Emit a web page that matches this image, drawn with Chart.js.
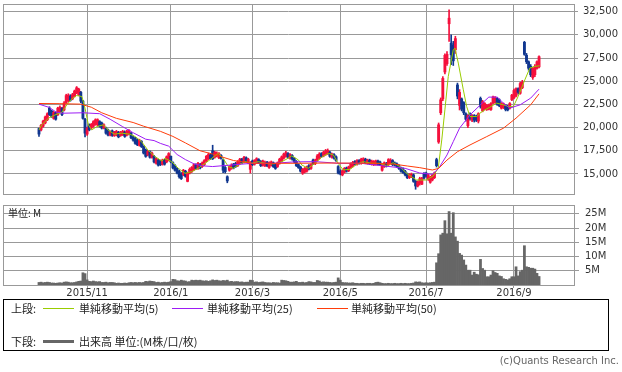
<!DOCTYPE html>
<html lang="ja">
<head>
<meta charset="utf-8">
<script src="https://cdn.jsdelivr.net/npm/chart.js@4.4.1/dist/chart.umd.min.js"></script>
<style>
  body { margin: 0; background: #fff; }
  #page { position: relative; width: 622px; height: 372px; overflow: hidden; font-family: "Noto Sans CJK JP", sans-serif; color: #222; }
  #priceChart { position: absolute; left: 0; top: 0; }
  #volumeChart { position: absolute; left: 0; top: 200px; }
  #unit { position: absolute; left: 8px; top: 207px; font-size: 10px; line-height: 12px; }
  #legend { position: absolute; left: 3px; top: 299px; width: 606px; height: 52px; box-sizing: border-box; border: 1px solid #000; font-size: 11px; }
  #legend span { position: absolute; white-space: nowrap; line-height: 12px; }
  #legend .ln { position: absolute; width: 31px; }
  #copy { position: absolute; right: 3px; top: 355px; font-size: 10px; line-height: 12px; color: #666; font-family: "DejaVu Sans", sans-serif; }
</style>
</head>
<body>
<div id="page">
  <canvas id="priceChart" width="622" height="200"></canvas>
  <canvas id="volumeChart" width="622" height="100"></canvas>
  <div id="unit">単位: M</div>
  <div id="legend">
    <span style="left:7px;top:2px">上段:</span>
    <div class="ln" style="left:39px;top:8px;height:1px;background:#99cc00"></div>
    <span style="left:75px;top:2px">単純移動平均(5)</span>
    <div class="ln" style="left:168px;top:8px;height:1px;background:#9d1cf5"></div>
    <span style="left:203px;top:2px">単純移動平均(25)</span>
    <div class="ln" style="left:313px;top:8px;height:1px;background:#ff3d0a"></div>
    <span style="left:347px;top:2px">単純移動平均(50)</span>
    <span style="left:7px;top:35px">下段:</span>
    <div class="ln" style="left:39px;top:40px;height:3px;background:#666"></div>
    <span style="left:75px;top:35px">出来高 単位:(M株/口/枚)</span>
  </div>
  <div id="copy">(c)Quants Research Inc.</div>
</div>
<script>
// daily candles, index 0 = first trading day shown
const opens = [
  19900,19750,20150,20500,20850,22100,21800,21000,21600,21400,
  21700,22100,21900,22700,22900,23400,23100,23400,23750,23550,
  23800,22850,20900,19300,20300,19950,20150,20350,20300,20650,
  20500,19950,19950,19750,19200,19650,19150,19200,19500,19150,
  19200,19500,19200,19300,19400,19000,18850,18650,18100,18500,
  17950,17600,17050,17400,16800,16900,16150,16500,16400,16050,
  16500,16300,16500,16900,16200,15900,15600,15300,15000,14900,
  15300,14200,15100,15250,15450,16000,15600,16000,15800,16000,
  16400,16650,17050,17500,16800,16950,16750,17000,16500,15700,
  14700,15400,15600,16050,16150,15900,16150,16600,16300,16750,
  16200,15500,16400,16050,16250,16550,16350,15950,15900,16250,
  15700,15950,16200,16000,15800,16150,16400,16700,16900,17200,
  16700,17000,16700,16350,16000,15750,15100,15200,15300,15900,
  15600,16500,16100,16500,16700,17200,16950,17100,17200,17350,
  16800,17100,16850,15800,15300,14900,15200,15650,15350,15700,
  15850,16350,16050,16450,16150,16350,16600,16150,16500,16050,
  16000,16050,16400,16300,15400,15800,16150,16000,16200,16450,
  16200,16100,15900,15650,15550,15300,15000,14600,14700,14900,
  14200,13700,14000,13900,15050,15100,14400,14100,14350,14600,
  16550,18450,21600,23100,26000,26900,31200,29100,28900,28400,
  24600,22400,23100,22700,21500,20200,21500,20800,21300,21200,
  20700,23150,21800,22000,21950,22000,21950,22650,22700,23150,
  23000,22100,22150,22400,22300,22100,23000,23200,23400,24200,
  23700,24300,29200,27800,27100,26600,25400,25700,26400,26550
];
const highs = [
  19950,20350,20800,21250,21600,22250,21900,21750,21700,22200,
  22350,22200,22800,23600,23650,23550,23700,24050,24430,24250,
  23900,22950,21000,20050,20400,20450,20750,20950,20950,20750,
  20600,20400,20050,19850,19650,19750,19600,19700,19600,19600,
  19700,19650,19700,19800,19500,19100,18950,18750,18750,18600,
  18050,17700,17550,17500,17350,17000,16750,16600,16500,16600,
  16600,16950,17300,16950,16300,16000,15700,15400,15150,15500,
  15400,15200,15650,15800,16100,16100,16250,16150,16300,16550,
  17000,17250,17200,18100,17450,17400,17300,17100,16600,15800,
  14800,15900,16100,16150,16250,16450,16700,16700,16900,16850,
  16700,16350,16500,16550,16750,16650,16450,16500,16400,16350,
  16300,16400,16300,16100,16300,16700,16950,17250,17450,17300,
  17200,17100,16800,16450,16100,15850,15600,15700,15850,16000,
  16100,16600,16600,17100,17300,17300,17450,17650,17700,17450,
  17250,17200,16950,15900,15450,15450,15700,15750,15850,16200,
  16350,16450,16550,16550,16700,16750,16700,16600,16600,16500,
  16450,16500,16500,16400,16100,16300,16250,16650,16650,16550,
  16300,16200,16000,15750,15650,15400,15100,15050,15100,15000,
  14300,14250,14650,14650,15150,15200,15000,14750,14950,15200,
  16700,20500,23200,25500,27950,28200,32700,30000,29300,29850,
  24800,24100,23200,22800,21600,21400,21600,21400,21400,21350,
  21600,23300,22950,22700,22500,22550,22700,23400,23350,23250,
  23100,22700,22650,22500,22400,22700,23600,24150,24300,24300,
  24900,25100,29300,28000,27200,26800,26500,26800,27200,27750
];
const lows = [
  19050,19650,20050,20400,20750,21300,21100,20900,20800,21300,
  21600,21300,21800,22600,22800,22850,23000,23300,23650,23450,
  22700,20900,19000,19150,19650,19850,20050,20250,20200,20050,
  19850,19850,19300,19100,19100,19050,19050,19100,18900,19050,
  19150,18950,19100,19200,18800,18550,18200,18050,18000,17850,
  17150,16800,16950,16700,16700,16200,16050,15850,15900,15950,
  15950,16200,16400,16200,15550,15300,15000,14550,14400,14800,
  14650,14150,15000,15150,15350,15500,15500,15550,15700,15900,
  16300,16550,16550,16550,16700,16850,16650,16600,15150,15100,
  14050,15300,15500,15550,15700,15800,16050,16100,16200,16250,
  16100,15100,15900,15950,16150,16150,15800,15850,15800,15800,
  15600,15850,15700,15500,15700,16050,16300,16600,16800,16700,
  16600,16500,16200,15800,15600,15200,14950,15100,15200,15450,
  15500,16000,16000,16400,16600,16800,16850,17000,17100,16800,
  16700,16600,16350,15000,14900,14800,15100,15200,15250,15600,
  15750,15950,15950,16050,16050,16250,16100,16050,16000,15950,
  15900,15950,15950,15900,15300,15700,15750,15900,16100,15900,
  15850,15700,15500,15200,15050,14800,14500,14500,14600,14100,
  13350,13600,13800,13850,14450,14650,14300,14000,14250,14500,
  15750,18300,21400,22900,25800,26700,29300,26800,26700,28000,
  23100,21900,21800,21400,20700,20000,20800,20650,20600,20650,
  20500,22100,21700,21900,21850,21900,21850,22550,22600,22400,
  22250,22000,22050,21800,21800,22000,22900,23100,23300,23600,
  23600,24200,27800,26900,26200,25500,25200,25500,26300,26450
];
const closes = [
  19300,20250,20700,21150,21500,21400,21200,21650,20900,22100,
  22200,21400,22650,23450,23500,22950,23550,23950,24300,24150,
  22850,21000,19400,19950,19750,20350,20650,20850,20850,20150,
  19950,20300,19400,19200,19550,19150,19500,19600,19000,19500,
  19600,19050,19600,19700,18900,18650,18300,18150,18650,17950,
  17250,16900,17450,16800,17250,16300,16650,15950,16000,16500,
  16050,16850,17200,16300,15650,15400,15100,14700,14500,15400,
  14750,15100,15500,15700,16000,15600,16150,15650,16200,16450,
  16900,17100,16650,16650,17350,17250,17200,16700,15400,15250,
  14250,15800,15950,15650,15800,16350,16600,16200,16800,16350,
  16600,16200,16000,16450,16650,16250,15900,16400,16250,15900,
  16200,16300,15800,15600,16200,16600,16850,17150,17300,16800,
  17100,16600,16300,15900,15700,15300,15500,15600,15750,15550,
  16000,16100,16500,16950,17150,16900,17350,17500,17550,16900,
  17150,16700,16450,15100,15000,15350,15600,15300,15750,16100,
  16250,16050,16450,16150,16600,16650,16200,16500,16100,16400,
  16350,16400,16050,16000,16000,16200,15850,16550,16500,16000,
  15950,15800,15600,15300,15150,14900,14600,14950,14950,14200,
  13700,14150,14500,14500,14550,14750,14900,14650,14850,15100,
  15900,20300,23000,25300,27800,27900,31800,27850,27200,29600,
  23400,23800,22000,21600,20900,21300,20950,21300,20800,20800,
  21500,22300,22800,22600,22400,22450,22600,23300,23200,22500,
  22350,22600,22550,21950,21900,22600,23500,24000,24200,23800,
  24750,24900,27900,27100,26400,25700,26400,26600,27100,27650
];
// volume, million shares
const volumes = [
  0.9,1.0,0.8,0.9,1.0,0.9,0.7,0.7,0.6,0.7,
  0.8,0.7,1.0,1.1,1.0,0.8,0.8,0.9,1.1,1.3,
  1.4,4.3,4.0,1.8,1.3,1.2,1.4,1.2,1.1,1.2,
  0.9,0.9,1.0,0.8,0.9,0.9,0.8,0.6,0.7,0.6,
  0.6,0.7,0.6,0.8,0.9,0.8,0.9,0.8,0.9,0.8,
  0.9,1.3,1.2,1.4,1.3,1.2,0.9,1.0,0.8,0.9,
  1.0,0.9,1.0,1.2,2.0,1.9,1.5,1.4,1.7,1.5,
  1.4,1.1,1.2,1.7,1.6,1.7,1.6,1.7,1.5,1.4,
  1.5,1.3,1.5,1.8,1.6,1.7,1.5,1.4,1.6,1.5,
  1.7,1.2,1.3,1.1,1.2,1.2,1.0,1.1,0.9,1.0,
  1.0,1.7,1.6,1.0,1.1,0.9,1.0,1.1,0.9,0.8,
  0.8,0.7,0.9,0.8,0.8,0.7,1.7,1.6,1.5,1.3,
  1.0,1.0,1.1,1.3,0.9,0.9,1.0,0.8,0.9,1.2,
  1.1,0.9,0.9,1.6,1.4,1.0,1.1,1.0,1.0,0.9,
  0.8,0.9,1.0,2.5,1.7,0.9,0.8,0.8,0.7,0.7,
  0.8,0.6,0.6,0.5,0.6,0.6,0.5,0.6,0.6,0.5,
  0.6,0.9,1.0,0.8,0.6,0.5,0.5,0.6,0.5,0.5,
  0.6,0.5,0.5,0.6,0.5,0.6,0.5,0.5,0.6,0.7,
  1.1,1.0,1.1,0.8,0.7,0.8,0.7,0.8,0.9,1.0,
  7.8,11.0,17.6,18.2,22.6,18.0,25.8,18.2,25.4,16.9,
  15.4,11.1,10.5,8.8,7.0,5.2,5.2,3.5,4.5,3.8,
  3.6,9.0,5.8,5.2,2.9,2.9,3.5,5.0,4.4,4.1,
  3.2,3.0,2.2,2.0,1.8,2.2,2.9,2.9,6.4,3.2,
  4.7,5.2,13.8,6.4,6.2,5.9,5.9,5.6,4.1,3.0
];

// moving averages (day index, value)
const ma5Days = [0,1.3,4.5,7.7,11,13.3,15.7,18,20.5,22,23.6,25.2,27.6,30.8,33,36,39.5,43.5,46,49,
  52,55.5,58.7,60.2,63.4,66.6,69.8,73,76,79.4,82.6,85.7,88,90.5,92.9,95.3,98.5,101.7,104.8,108,
  111,114.4,117.6,120.8,124,125.6,128.7,131.9,135.1,138.3,140.7,143,145.4,148.6,151.8,155,159,163,166.2,169.3,
  172.5,175.7,178,180.5,182.9,185.3,188.4,190.8,192.5,194,195.6,198,198.8,200.4,202.8,204.4,206,209.2,210.7,213.1,
  215.5,218.7,221.9,224.3,226.7,229,232.2,234.6,237,239.3];
const ma5 = [19750,20300,21010,21370,21660,22460,23100,23460,23350,22100,20300,19750,20110,20300,19750,19290,19400,19290,19030,18490,
  17590,16870,16400,16690,16330,15610,15070,15250,15610,16150,16690,17230,16690,15790,15610,15970,16330,16150,16330,16150,
  16080,16150,16510,16950,16510,15970,15610,16150,16800,17230,17050,16150,15430,15500,16040,16330,16150,16150,15860,16220,
  15790,15070,14710,14350,14350,14350,14780,15610,18670,21910,25510,28400,28580,26960,24080,22270,21190,21190,21550,21910,
  22200,22640,22460,22270,22270,23350,25150,26420,26600,26670];
const ma25Days = [0,5,8,11,21,29,34,40,45,51,55,58,62,66,70,74,78,83,92,102,
  112,122,132,143,154,165,175,182,188,191,195,198,201,206,211,215,219,222,225,230,235,239];
const ma25 = [22530,22170,21700,21550,21600,21500,20900,20100,19450,18750,18600,18300,18000,17100,16550,16100,15880,15800,15970,16150,
  16150,16300,16330,16150,16150,15860,15610,15100,14960,15600,17050,18490,19940,21370,22460,23290,23290,22640,22100,22460,23180,24150];
const ma50Days = [0,10,20,25,30,37,45,50,58,64,70,77,83,87,93,102,120,140,160,170,
  176,182,188,191,195,200,206,214,222,228,235,239];
const ma50 = [22600,22580,22530,22200,21600,21000,20550,20150,19600,19050,18350,17500,17150,16870,16450,16150,16150,16180,16150,16050,
  15860,15680,15430,15600,16500,17400,18130,19030,19940,21020,22460,23640];

// month starts (day index) and their labels
const monthTicks = [23, 63, 102, 144, 185, 227];
const monthLabels = ['2015/11', '2016/1', '2016/3', '2016/5', '2016/7', '2016/9'];
const priceTicks = [15000, 17500, 20000, 22500, 25000, 27500, 30000, 32500];
const volumeTicks = [5, 10, 15, 20, 25];

const UP = '#f5103c';
const DOWN = '#10368f';
const GRID = '#999999';
const X_MIN = -17.2, X_MAX = 255.7;
const tickFont = { family: 'DejaVu Sans', size: 10 };

const days = closes.map((c, i) => i);
const pts = (xs, ys) => xs.map((x, k) => ({ x: x, y: ys[k] }));
const candleColor = ctx => closes[ctx.dataIndex] >= opens[ctx.dataIndex] ? UP : DOWN;

// gray box round each plot area
const frame = {
  id: 'frame',
  afterDraw(chart) {
    const a = chart.chartArea, ctx = chart.ctx;
    ctx.save();
    ctx.strokeStyle = GRID;
    ctx.lineWidth = 1;
    ctx.strokeRect(Math.round(a.left) + 0.5, Math.round(a.top) + 0.5,
      Math.round(a.right - a.left), Math.round(a.bottom - a.top));
    ctx.restore();
  }
};

function maLine(xs, ys, color) {
  return { type: 'line', data: pts(xs, ys), borderColor: color, borderWidth: 1,
    pointRadius: 0, tension: 0, fill: false, order: 0 };
}

new Chart(document.getElementById('priceChart'), {
  data: {
    datasets: [
      { type: 'bar', data: days.map(i => ({ x: i, y: [lows[i], highs[i]] })),
        backgroundColor: candleColor, barThickness: 1, grouped: false, order: 2 },
      { type: 'bar', data: days.map(i => ({ x: i, y: [opens[i], closes[i]] })),
        backgroundColor: candleColor, barThickness: 2.2, grouped: false, order: 1 },
      maLine(ma50Days, ma50, '#ff3d0a'),
      maLine(ma25Days, ma25, '#9d1cf5'),
      maLine(ma5Days, ma5, '#99cc00')
    ]
  },
  options: {
    responsive: false,
    animation: false,
    layout: { padding: { left: 3, top: 4, right: 0, bottom: 0 } },
    plugins: { legend: { display: false }, tooltip: { enabled: false } },
    scales: {
      x: {
        type: 'linear', min: X_MIN, max: X_MAX, offset: false,
        grid: { color: GRID, offset: false, drawTicks: false },
        border: { display: false },
        ticks: { display: false },
        afterBuildTicks: s => { s.ticks = monthTicks.map(v => ({ value: v })); },
        afterFit: s => { s.height = 6; s.paddingLeft = 0; s.paddingRight = 0; }
      },
      y: {
        position: 'right', min: 12840, max: 33330,
        grid: { color: GRID, tickLength: 4 },
        border: { display: false },
        ticks: { padding: 5, color: '#333', font: tickFont,
          callback: v => v.toLocaleString('en-US') },
        afterBuildTicks: s => { s.ticks = priceTicks.map(v => ({ value: v })); },
        afterFit: s => { s.width = 48; s.paddingTop = 0; s.paddingBottom = 0; }
      }
    }
  },
  plugins: [frame]
});

new Chart(document.getElementById('volumeChart'), {
  data: {
    datasets: [
      { type: 'bar', data: days.map(i => ({ x: i, y: volumes[i] })),
        backgroundColor: '#666666', barThickness: 2.1, grouped: false }
    ]
  },
  options: {
    responsive: false,
    animation: false,
    layout: { padding: { left: 3, top: 5, right: 0, bottom: 0 } },
    plugins: { legend: { display: false }, tooltip: { enabled: false } },
    scales: {
      x: {
        type: 'linear', min: X_MIN, max: X_MAX, offset: false,
        grid: { color: GRID, offset: false, tickLength: 3 },
        border: { display: false },
        ticks: { padding: 0, maxRotation: 0, autoSkip: false, color: '#333',
          font: { family: 'DejaVu Sans', size: 10, lineHeight: 1 },
          callback: v => monthLabels[monthTicks.indexOf(v)] },
        afterBuildTicks: s => { s.ticks = monthTicks.map(v => ({ value: v })); },
        afterFit: s => { s.height = 15; s.paddingLeft = 0; s.paddingRight = 0; }
      },
      y: {
        position: 'right', min: 0, max: 28.1,
        grid: { color: GRID, tickLength: 5 },
        border: { display: false },
        ticks: { padding: 6, color: '#333', font: tickFont,
          callback: v => v + 'M' },
        afterBuildTicks: s => { s.ticks = volumeTicks.map(v => ({ value: v })); },
        afterFit: s => { s.width = 48; s.paddingTop = 0; s.paddingBottom = 0; }
      }
    }
  },
  plugins: [frame]
});
</script>
</body>
</html>
